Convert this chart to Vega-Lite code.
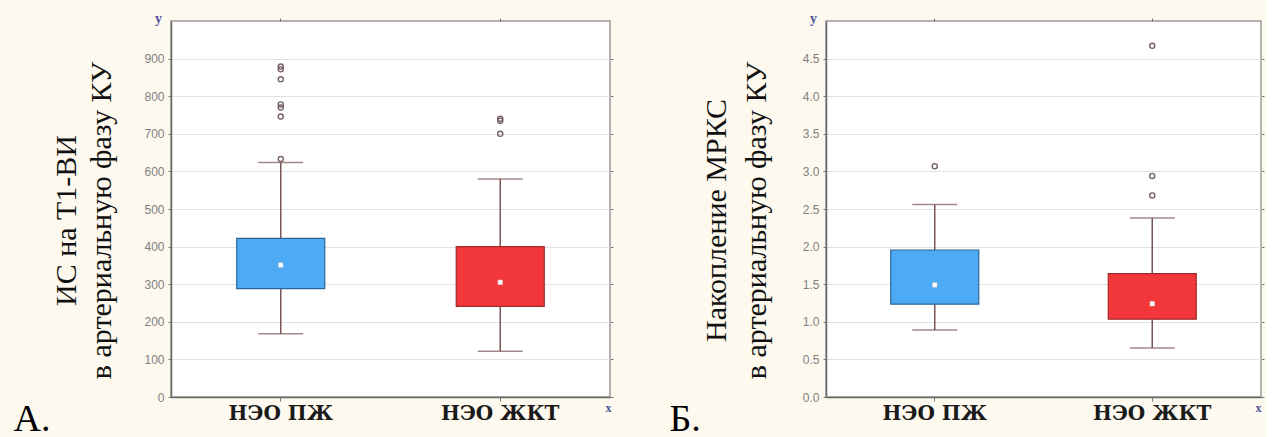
{
  "$schema": "https://vega.github.io/schema/vega-lite/v6.json",
  "background": "#fdf9ee",
  "padding": {"left": 12, "top": 10, "right": 0, "bottom": 0},
  "spacing": 53,
  "config": {
    "view": {"stroke": "#9a9a9a", "strokeWidth": 1.5, "fill": "white"},
    "axis": {
      "labelFont": "Liberation Sans", "labelColor": "#808080", "labelFontSize": 12,
      "tickColor": "#777777", "domainColor": "#6a6a6a", "domainWidth": 1.5,
      "gridColor": "#e0e0e0", "titleFont": "Liberation Serif", "titleFontWeight": "normal", "titleColor": "#111111"
    }
  },
  "datasets": {
    "boxA": [
      {"cat": "НЭО ПЖ", "lower": 168, "q1": 288, "median": 351, "q3": 422, "upper": 624},
      {"cat": "НЭО ЖКТ", "lower": 122, "q1": 241, "median": 305, "q3": 400, "upper": 580}
    ],
    "outA": [
      {"cat": "НЭО ПЖ", "v": 633}, {"cat": "НЭО ПЖ", "v": 746}, {"cat": "НЭО ПЖ", "v": 770},
      {"cat": "НЭО ПЖ", "v": 778}, {"cat": "НЭО ПЖ", "v": 845}, {"cat": "НЭО ПЖ", "v": 872},
      {"cat": "НЭО ПЖ", "v": 879},
      {"cat": "НЭО ЖКТ", "v": 700}, {"cat": "НЭО ЖКТ", "v": 735}, {"cat": "НЭО ЖКТ", "v": 740}
    ],
    "boxB": [
      {"cat": "НЭО ПЖ", "lower": 0.89, "q1": 1.235, "median": 1.49, "q3": 1.955, "upper": 2.56},
      {"cat": "НЭО ЖКТ", "lower": 0.65, "q1": 1.035, "median": 1.24, "q3": 1.64, "upper": 2.38}
    ],
    "outB": [
      {"cat": "НЭО ПЖ", "v": 3.07},
      {"cat": "НЭО ЖКТ", "v": 2.68}, {"cat": "НЭО ЖКТ", "v": 2.94}, {"cat": "НЭО ЖКТ", "v": 4.67}
    ]
  },
  "hconcat": [
    {
      "width": 439, "height": 376,
      "resolve": {"axis": {"x": "independent", "y": "independent"}},
      "layer": [
        {
          "data": {"name": "boxA"},
          "mark": {"type": "rule", "color": "#7a5555", "strokeWidth": 1.5},
          "encoding": {
            "x": {"field": "cat", "type": "nominal",
              "scale": {"domain": ["НЭО ПЖ", "НЭО ЖКТ"], "paddingInner": 0, "paddingOuter": 0},
              "axis": {"orient": "bottom", "labelFont": "DejaVu Serif", "labelFontWeight": "bold", "labelFontSize": 20,
                "labelColor": "#1a1a1a", "labelAngle": 0, "labelPadding": 2, "tickSize": 4, "grid": false,
                "title": "А.", "titleFontSize": 38, "titleX": -158, "titleY": 33, "titleAlign": "left",
                "titleBaseline": "alphabetic", "titleAngle": 0, "titleColor": "#000000"}},
            "y": {"field": "lower", "type": "quantitative",
              "scale": {"domain": [0, 1000], "nice": false},
              "axis": {"orient": "left", "values": [0, 100, 200, 300, 400, 500, 600, 700, 800, 900], "grid": true,
                "tickSize": 3, "labelPadding": 4,
                "title": ["ИС на Т1-ВИ", "в артериальную фазу КУ"], "titleFontSize": 30,
                "titleX": -105, "titleY": 199, "titleAngle": -90, "titleAlign": "center",
                "titleBaseline": "middle", "titleLineHeight": 35}},
            "y2": {"field": "upper"}
          }
        },
        {
          "data": {"name": "boxA"},
          "mark": {"type": "tick", "color": "#7a5555", "size": 45, "thickness": 1.5},
          "encoding": {
            "x": {"field": "cat", "type": "nominal",
              "axis": {"orient": "top", "labels": false, "tickSize": 3, "domain": false, "grid": false,
                "title": "y", "titleX": -13, "titleY": -3, "titleFontWeight": "bold", "titleFontSize": 14,
                "titleColor": "#50509a", "titleAngle": 0, "titleBaseline": "middle", "titleAlign": "center"}},
            "y": {"field": "lower", "type": "quantitative",
              "axis": {"orient": "right", "labels": false, "tickSize": 3, "domain": false, "grid": false,
                "values": [0, 100, 200, 300, 400, 500, 600, 700, 800, 900],
                "title": "x", "titleX": -2, "titleY": 386, "titleFontWeight": "bold", "titleFontSize": 12,
                "titleColor": "#50509a", "titleAngle": 0, "titleBaseline": "middle", "titleAlign": "center"}}
          }
        },
        {
          "data": {"name": "boxA"},
          "mark": {"type": "tick", "color": "#7a5555", "size": 45, "thickness": 1.5},
          "encoding": {
            "x": {"field": "cat", "type": "nominal", "axis": null},
            "y": {"field": "upper", "type": "quantitative", "axis": null}
          }
        },
        {
          "data": {"name": "boxA"},
          "mark": {"type": "bar", "size": 88, "strokeWidth": 1.2},
          "encoding": {
            "x": {"field": "cat", "type": "nominal", "axis": null},
            "y": {"field": "q1", "type": "quantitative", "axis": null},
            "y2": {"field": "q3"},
            "fill": {"field": "cat", "type": "nominal", "legend": null,
              "scale": {"domain": ["НЭО ПЖ", "НЭО ЖКТ"], "range": ["#4daaf5", "#f2373a"]}},
            "stroke": {"field": "cat", "type": "nominal", "legend": null,
              "scale": {"domain": ["НЭО ПЖ", "НЭО ЖКТ"], "range": ["#2f6595", "#a02a2c"]}}
          }
        },
        {
          "data": {"name": "boxA"},
          "mark": {"type": "point", "shape": "square", "filled": true, "fill": "white", "stroke": "#d0d0d0", "strokeWidth": 0.6, "size": 20, "opacity": 1},
          "encoding": {
            "x": {"field": "cat", "type": "nominal", "axis": null},
            "y": {"field": "median", "type": "quantitative", "axis": null}
          }
        },
        {
          "data": {"name": "outA"},
          "mark": {"type": "point", "shape": "circle", "filled": false, "stroke": "#7a6068", "strokeWidth": 1.4, "size": 26, "opacity": 1},
          "encoding": {
            "x": {"field": "cat", "type": "nominal", "axis": null},
            "y": {"field": "v", "type": "quantitative", "axis": null}
          }
        }
      ]
    },
    {
      "width": 435, "height": 376,
      "resolve": {"axis": {"x": "independent", "y": "independent"}},
      "layer": [
        {
          "data": {"name": "boxB"},
          "mark": {"type": "rule", "color": "#7a5555", "strokeWidth": 1.5},
          "encoding": {
            "x": {"field": "cat", "type": "nominal",
              "scale": {"domain": ["НЭО ПЖ", "НЭО ЖКТ"], "paddingInner": 0, "paddingOuter": 0},
              "axis": {"orient": "bottom", "labelFont": "DejaVu Serif", "labelFontWeight": "bold", "labelFontSize": 20,
                "labelColor": "#1a1a1a", "labelAngle": 0, "labelPadding": 2, "tickSize": 4, "grid": false,
                "title": "Б.", "titleFontSize": 38, "titleX": -157, "titleY": 33, "titleAlign": "left",
                "titleBaseline": "alphabetic", "titleAngle": 0, "titleColor": "#000000"}},
            "y": {"field": "lower", "type": "quantitative",
              "scale": {"domain": [0, 5], "nice": false},
              "axis": {"orient": "left", "values": [0, 0.5, 1, 1.5, 2, 2.5, 3, 3.5, 4, 4.5], "format": ".1f", "grid": true,
                "tickSize": 3, "labelPadding": 4,
                "title": ["Накопление МРКС", "в артериальную фазу КУ"], "titleFontSize": 30,
                "titleX": -110, "titleY": 199, "titleAngle": -90, "titleAlign": "center",
                "titleBaseline": "middle", "titleLineHeight": 40}},
            "y2": {"field": "upper"}
          }
        },
        {
          "data": {"name": "boxB"},
          "mark": {"type": "tick", "color": "#7a5555", "size": 45, "thickness": 1.5},
          "encoding": {
            "x": {"field": "cat", "type": "nominal",
              "axis": {"orient": "top", "labels": false, "tickSize": 3, "domain": false, "grid": false,
                "title": "y", "titleX": -13, "titleY": -3, "titleFontWeight": "bold", "titleFontSize": 14,
                "titleColor": "#50509a", "titleAngle": 0, "titleBaseline": "middle", "titleAlign": "center"}},
            "y": {"field": "lower", "type": "quantitative",
              "axis": {"orient": "right", "labels": false, "tickSize": 3, "domain": false, "grid": false,
                "values": [0, 0.5, 1, 1.5, 2, 2.5, 3, 3.5, 4, 4.5],
                "title": "x", "titleX": -3, "titleY": 386, "titleFontWeight": "bold", "titleFontSize": 12,
                "titleColor": "#50509a", "titleAngle": 0, "titleBaseline": "middle", "titleAlign": "center"}}
          }
        },
        {
          "data": {"name": "boxB"},
          "mark": {"type": "tick", "color": "#7a5555", "size": 45, "thickness": 1.5},
          "encoding": {
            "x": {"field": "cat", "type": "nominal", "axis": null},
            "y": {"field": "upper", "type": "quantitative", "axis": null}
          }
        },
        {
          "data": {"name": "boxB"},
          "mark": {"type": "bar", "size": 88, "strokeWidth": 1.2},
          "encoding": {
            "x": {"field": "cat", "type": "nominal", "axis": null},
            "y": {"field": "q1", "type": "quantitative", "axis": null},
            "y2": {"field": "q3"},
            "fill": {"field": "cat", "type": "nominal", "legend": null,
              "scale": {"domain": ["НЭО ПЖ", "НЭО ЖКТ"], "range": ["#4daaf5", "#f2373a"]}},
            "stroke": {"field": "cat", "type": "nominal", "legend": null,
              "scale": {"domain": ["НЭО ПЖ", "НЭО ЖКТ"], "range": ["#2f6595", "#a02a2c"]}}
          }
        },
        {
          "data": {"name": "boxB"},
          "mark": {"type": "point", "shape": "square", "filled": true, "fill": "white", "stroke": "#d0d0d0", "strokeWidth": 0.6, "size": 20, "opacity": 1},
          "encoding": {
            "x": {"field": "cat", "type": "nominal", "axis": null},
            "y": {"field": "median", "type": "quantitative", "axis": null}
          }
        },
        {
          "data": {"name": "outB"},
          "mark": {"type": "point", "shape": "circle", "filled": false, "stroke": "#7a6068", "strokeWidth": 1.4, "size": 26, "opacity": 1},
          "encoding": {
            "x": {"field": "cat", "type": "nominal", "axis": null},
            "y": {"field": "v", "type": "quantitative", "axis": null}
          }
        }
      ]
    }
  ]
}
